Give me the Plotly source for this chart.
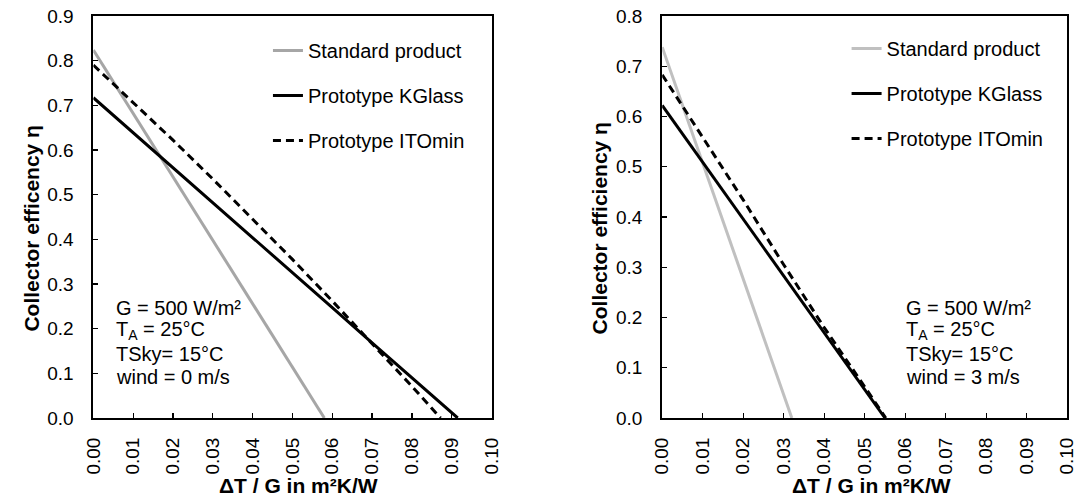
import plotly.graph_objects as go

# ---- data ----
# Left panel: wind = 0 m/s
l_std_x = [0.0, 0.01, 0.02, 0.03, 0.04, 0.05, 0.058]
l_std_y = [0.824, 0.682, 0.540, 0.398, 0.256, 0.114, 0.0]
l_kg_x = [0.0, 0.01, 0.02, 0.03, 0.04, 0.05, 0.06, 0.07, 0.08, 0.0915]
l_kg_y = [0.717, 0.639, 0.560, 0.482, 0.404, 0.325, 0.247, 0.168, 0.090, 0.0]
l_ito_x = [0.0, 0.01, 0.02, 0.03, 0.04, 0.05, 0.06, 0.07, 0.08, 0.0872]
l_ito_y = [0.790, 0.707, 0.622, 0.535, 0.446, 0.355, 0.262, 0.167, 0.071, 0.0]

# Right panel: wind = 3 m/s
r_std_x = [0.0, 0.01, 0.02, 0.03, 0.032]
r_std_y = [0.738, 0.507, 0.277, 0.046, 0.0]
r_kg_x = [0.0, 0.01, 0.02, 0.03, 0.04, 0.05, 0.055]
r_kg_y = [0.622, 0.509, 0.396, 0.282, 0.169, 0.056, 0.0]
r_ito_x = [0.0, 0.01, 0.02, 0.03, 0.04, 0.05, 0.0552]
r_ito_y = [0.683, 0.558, 0.434, 0.305, 0.180, 0.062, 0.0]

names = ["Standard product", "Prototype KGlass", "Prototype ITOmin"]
left_note = ["G = 500 W/m²", "T<sub>A</sub> = 25°C", "TSky= 15°C", "wind = 0 m/s"]
right_note = ["G = 500 W/m²", "T<sub>A</sub> = 25°C", "TSky= 15°C", "wind = 3 m/s"]
x_title = "ΔT / G in m²K/W"
y_title_left = "Collector efficency η"
y_title_right = "Collector efficiency η"

FONT = "Liberation Sans, Arial, sans-serif"
W, H = 1090, 498
PT, PB = 16, 418  # plot top / bottom in px

fig = go.Figure()


def add_panel(xs, ys, xa, ya, leg, gray):
    styles = [dict(color=gray, width=3),
              dict(color="black", width=3),
              dict(color="black", width=3, dash="8px,5px")]
    for x, y, nm, st in zip(xs, ys, names, styles):
        fig.add_trace(go.Scatter(x=x, y=y, mode="lines", name=nm, line=st,
                                 xaxis=xa, yaxis=ya, legend=leg,
                                 legendgroup=leg + nm))


add_panel([l_std_x, l_kg_x, l_ito_x], [l_std_y, l_kg_y, l_ito_y], "x", "y", "legend", "#a6a6a6")
add_panel([r_std_x, r_kg_x, r_ito_x], [r_std_y, r_kg_y, r_ito_y], "x2", "y2", "legend2", "#c0c0c0")

xax = dict(range=[0, 0.1], dtick=0.01, tick0=0, tickformat=".2f", tickangle=-90,
           ticks="inside", ticklen=5, tickwidth=1.3, tickcolor="black",
           showline=True, linecolor="black", linewidth=2, mirror=True,
           showgrid=False, zeroline=False, ticklabelstandoff=10,
           tickfont=dict(family=FONT, size=19, color="black"), fixedrange=True)
yax = dict(dtick=0.1, tick0=0, tickformat=".1f",
           ticks="inside", ticklen=5, tickwidth=1.3, tickcolor="black",
           showline=True, linecolor="black", linewidth=2, mirror=True,
           showgrid=False, zeroline=False, ticklabelstandoff=14,
           tickfont=dict(family=FONT, size=19, color="black"), fixedrange=True)

l0, l1 = 84 / W, 490 / W
r0, r1 = 664 / W, 1077 / W

fig.update_layout(
    width=W, height=H,
    margin=dict(l=0, r=0, t=PT, b=H - PB, pad=0),
    paper_bgcolor="white", plot_bgcolor="white",
    font=dict(family=FONT, size=20, color="black"),
    xaxis=dict(domain=[l0, l1], anchor="y", **xax),
    yaxis=dict(domain=[0, 1], anchor="x", range=[0, 0.9], **yax),
    xaxis2=dict(domain=[r0, r1], anchor="y2", **xax),
    yaxis2=dict(domain=[0, 1], anchor="x2", range=[0, 0.8], **yax),
    legend=dict(x=262 / W, xanchor="left", y=(PB - 31) / (PB - PT), yanchor="top",
                bgcolor="rgba(0,0,0,0)", font=dict(family=FONT, size=20, color="black"),
                tracegroupgap=16, itemwidth=30),
    legend2=dict(x=852 / W, xanchor="left", y=(PB - 29) / (PB - PT), yanchor="top",
                 bgcolor="rgba(0,0,0,0)", font=dict(family=FONT, size=20, color="black"),
                 tracegroupgap=16, itemwidth=30),
    showlegend=True,
)


def ypaper(px):
    return (PB - px) / (PB - PT)


anns = []
rows_px = [307.5, 330.5, 354, 377]
for txt, ypx in zip(left_note, rows_px):
    anns.append(dict(text=txt, x=105 / W, y=ypaper(ypx), xref="paper", yref="paper",
                     xanchor="left", yanchor="middle", showarrow=False,
                     font=dict(family=FONT, size=20, color="black")))
for txt, ypx in zip(right_note, rows_px):
    anns.append(dict(text=txt, x=911 / W, y=ypaper(ypx), xref="paper", yref="paper",
                     xanchor="left", yanchor="middle", showarrow=False,
                     font=dict(family=FONT, size=20, color="black")))
# axis titles
for xc in [293, 877]:
    anns.append(dict(text="<b>" + x_title + "</b>", x=xc / W, y=ypaper(486),
                     xref="paper", yref="paper", xanchor="center", yanchor="middle",
                     showarrow=False, font=dict(family=FONT, size=21, color="black")))
for xc, t in [(20, y_title_left), (600, y_title_right)]:
    anns.append(dict(text="<b>" + t + "</b>", x=xc / W, y=ypaper(228), textangle=-90,
                     xref="paper", yref="paper", xanchor="center", yanchor="middle",
                     showarrow=False, font=dict(family=FONT, size=21, color="black")))
fig.update_layout(annotations=anns)

fig.write_html("out.html", config={"displayModeBar": False, "staticPlot": True})

# remove the browser's default body margin so the figure sits at (0, 0)
with open("out.html", encoding="utf-8") as f:
    html = f.read()
html = html.replace("<head>", "<head><style>html,body{margin:0;padding:0;overflow:hidden;}</style>", 1)
with open("out.html", "w", encoding="utf-8") as f:
    f.write(html)
